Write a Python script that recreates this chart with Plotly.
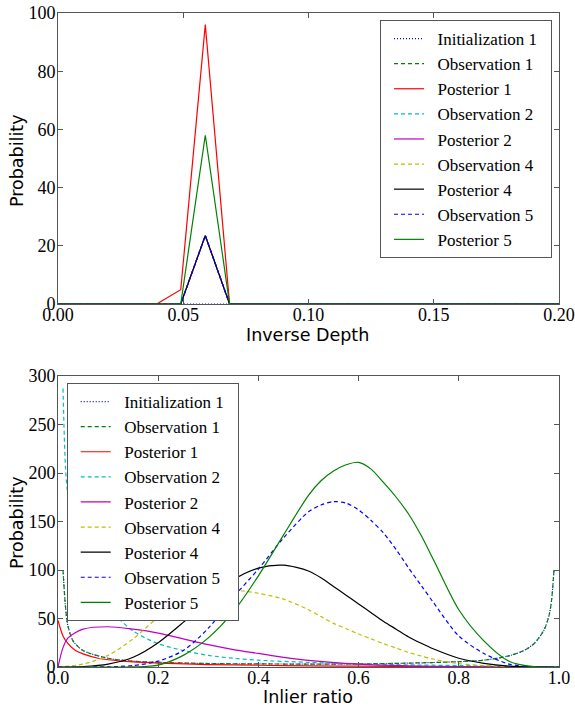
import plotly.graph_objects as go

W, H = 575, 709

# ---------------- top chart data (inverse depth) ----------------
depth_x = [0.0, 0.0394, 0.0490, 0.0588, 0.0685, 0.2]
init1_top = [0, 0, 0, 0, 0, 0]
obs1_top = [0, 0, 0, 23.5, 0, 0]
post1_top = [0, 0, 4.9, 96.0, 0, 0]
obs2_top = [0, 0, 0, 23.5, 0, 0]
post2_top = [0, 0, 0, 23.5, 0, 0]
obs4_top = [0, 0, 0, 23.5, 0, 0]
post4_top = [0, 0, 0, 23.5, 0, 0]
obs5_top = [0, 0, 0, 23.5, 0, 0]
post5_top = [0, 0, 0, 58.0, 0, 0]

# ---------------- bottom chart data (inlier ratio) ----------------
u_x = [0.01, 0.015, 0.02, 0.03, 0.05, 0.1, 0.15, 0.2, 0.3, 0.4, 0.5, 0.6, 0.7, 0.8, 0.85, 0.9, 0.93, 0.95, 0.97, 0.98, 0.985, 0.99]
init1_bot = [100, 62, 42, 27, 17, 9, 6, 4.8, 3.6, 3.2, 3.0, 3.2, 4.0, 5.5, 7, 11.5, 17, 24, 38, 53, 68, 100]
obs1_bot = [100, 62, 42, 27, 17, 9, 6, 4.8, 3.6, 3.2, 3.0, 3.2, 4.0, 5.5, 7, 11.5, 17, 24, 38, 53, 68, 100]

post1_x = [0.0, 0.01, 0.02, 0.035, 0.05, 0.08, 0.1, 0.15, 0.2, 0.3, 0.4, 0.5, 0.6, 0.8, 0.99]
post1_bot = [48, 32, 24, 17, 13.5, 9, 7.5, 5.2, 4, 2.5, 1.8, 1.2, 0.8, 0.3, 0]

obs2_x = [0.01, 0.015, 0.02, 0.03, 0.05, 0.075, 0.1, 0.125, 0.15, 0.2, 0.25, 0.3, 0.35, 0.4, 0.5, 0.6, 0.7, 0.8, 0.9, 0.99]
obs2_bot = [287, 205, 175, 140, 100, 72, 60, 48, 37, 24, 17, 12, 9, 7, 4.8, 3, 2.2, 1.5, 0.8, 0.2]

post2_x = [0.0, 0.01, 0.02, 0.05, 0.1, 0.15, 0.2, 0.25, 0.3, 0.35, 0.4, 0.45, 0.5, 0.6, 0.7, 0.8, 0.9, 0.99]
post2_bot = [0, 20, 30, 39, 41.5, 39, 35, 29, 23, 18, 14, 10, 6.8, 3, 1.2, 0.4, 0.1, 0]

ratio_x = [0.0, 0.05, 0.1, 0.15, 0.2, 0.25, 0.3, 0.35, 0.4, 0.45, 0.5, 0.525, 0.55, 0.575, 0.6, 0.625,
           0.65, 0.675, 0.7, 0.725, 0.75, 0.8, 0.85, 0.9, 0.95, 1.0]
obs4_bot = [0, 3, 12, 29, 51, 65, 75, 79, 76, 70, 59, 52, 45, 39.5, 34, 29, 24, 19.5, 15, 11.3, 8, 3.5, 1.5, 0.5, 0.1, 0]
post4_bot = [0, 0.5, 3, 10, 25, 46, 69, 90, 102, 105, 99, 92, 83, 74, 65, 56, 47, 39, 31, 24.4, 18.5, 9, 3.8, 1, 0.2, 0]
obs5_bot = [0, 0, 0.2, 1.5, 6, 17, 40, 72, 101, 133, 160, 167, 170.5, 169, 162, 151, 138, 121, 102, 84, 66, 32, 14, 3, 0.2, 0]
post5_bot = [0, 0, 0, 0.1, 2, 12, 30, 57, 94, 136, 177, 192, 202, 208.5, 211, 204, 190, 175, 157.5, 135.5, 110, 59, 27, 6, 0.3, 0]

names = ["Initialization 1", "Observation 1", "Posterior 1", "Observation 2", "Posterior 2",
         "Observation 4", "Posterior 4", "Observation 5", "Posterior 5"]

# styles
DASH = "4px,3px"
DOT = "1px,2px"
styles = [
    ("#0000ff", DOT),
    ("#008000", DASH),
    ("#ff0000", "solid"),
    ("#00bfbf", DASH),
    ("#bf00bf", "solid"),
    ("#bfbf00", DASH),
    ("#000000", "solid"),
    ("#0000ff", DASH),
    ("#008000", "solid"),
]

top_series = [init1_top, obs1_top, post1_top, obs2_top, post2_top, obs4_top, post4_top, obs5_top, post5_top]
bot_series = [(u_x, init1_bot), (u_x, obs1_bot), (post1_x, post1_bot), (obs2_x, obs2_bot),
              (post2_x, post2_bot), (ratio_x, obs4_bot), (ratio_x, post4_bot),
              (ratio_x, obs5_bot), (ratio_x, post5_bot)]

PAD_L = "\u00a0\u00a0"
PAD_R = "\u00a0\u00a0"

fig = go.Figure()
for name, (col, dash), ys in zip(names, styles, top_series):
    fig.add_trace(go.Scatter(x=depth_x, y=ys, mode="lines", name=PAD_L + name + PAD_R,
                             line=dict(color=col, dash=dash, width=1.2),
                             xaxis="x", yaxis="y", legend="legend"))
for name, (col, dash), (xs, ys) in zip(names, styles, bot_series):
    fig.add_trace(go.Scatter(x=xs, y=ys, mode="lines", name=PAD_L + name + PAD_R,
                             line=dict(color=col, dash=dash, width=1.2, shape="spline", smoothing=0.8),
                             xaxis="x2", yaxis="y2", legend="legend2"))

X0, X1 = 58 / W, 559 / W
TOP = (1 - 304 / H, 1 - 13 / H)
BOT = (1 - 667 / H, 1 - 376 / H)

SERIF = "Liberation Serif, Times New Roman, serif"
tickfont = dict(family=SERIF, size=18, color="#000000")
axis_common = dict(showline=True, linecolor="#555555", linewidth=1, mirror="ticks",
                   ticks="inside", ticklen=5, tickcolor="#555555", showgrid=False,
                   zeroline=False, tickfont=tickfont)

legend_common = dict(xanchor="left", yanchor="top", bgcolor="white", bordercolor="#555555",
                     borderwidth=1, font=dict(family=SERIF, size=17, color="#000000"),
                     itemwidth=30, tracegroupgap=0, indentation=8)

fig.update_layout(
    width=W, height=H,
    margin=dict(l=0, r=0, t=0, b=0, autoexpand=False),
    paper_bgcolor="white", plot_bgcolor="white",
    xaxis=dict(domain=[X0, X1], range=[0, 0.2], tickvals=[0, 0.05, 0.1, 0.15, 0.2],
               tickformat=".2f", anchor="y", ticklabelstandoff=-6, **axis_common),
    yaxis=dict(domain=list(TOP), range=[0, 100], tickvals=[0, 20, 40, 60, 80, 100],
               anchor="x", ticklabelstandoff=-2, **axis_common),
    xaxis2=dict(domain=[X0, X1], range=[0, 1], tickvals=[0, 0.2, 0.4, 0.6, 0.8, 1.0],
                tickformat=".1f", anchor="y2", ticklabelstandoff=-6, **axis_common),
    yaxis2=dict(domain=list(BOT), range=[0, 300], tickvals=[0, 50, 100, 150, 200, 250, 300],
                anchor="x2", ticklabelstandoff=-2, **axis_common),
    legend=dict(x=380 / W, y=1 - 20 / H, **legend_common),
    legend2=dict(x=66.7 / W, y=1 - 383 / H, **legend_common),
    showlegend=True,
)

title_font = dict(family="DejaVu Sans", size=17.5, color="#000000")
fig.add_annotation(text="Probability", x=17 / W, y=1 - 161 / H, xref="paper", yref="paper",
                   textangle=-90, showarrow=False, font=title_font, xanchor="center", yanchor="middle")
fig.add_annotation(text="Inverse Depth", x=308 / W, y=1 - 335 / H, xref="paper", yref="paper",
                   showarrow=False, font=title_font, xanchor="center", yanchor="middle")
fig.add_annotation(text="Probability", x=17 / W, y=1 - 523 / H, xref="paper", yref="paper",
                   textangle=-90, showarrow=False, font=title_font, xanchor="center", yanchor="middle")
fig.add_annotation(text="Inlier ratio", x=308 / W, y=1 - 708.5 / H, xref="paper", yref="paper",
                   showarrow=False, font=title_font, xanchor="center", yanchor="bottom")

fig.write_html("out.html", config={"displayModeBar": False},
               post_script="document.body.style.margin='0px';document.body.style.overflow='hidden';")
